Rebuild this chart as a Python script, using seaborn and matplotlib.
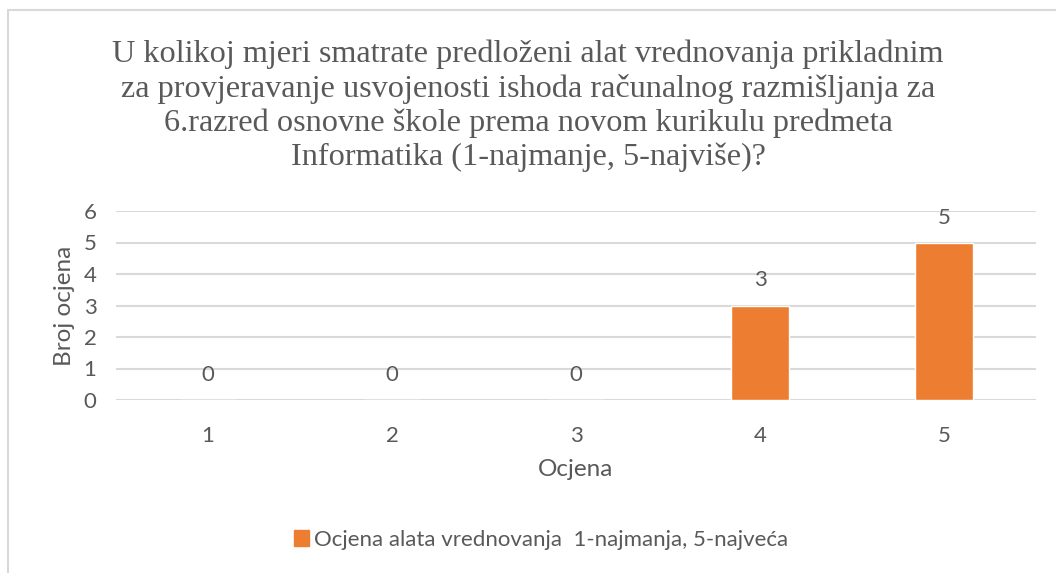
import matplotlib
matplotlib.use("Agg")
import matplotlib.pyplot as plt
import seaborn as sns
import pandas as pd
from matplotlib.patches import Rectangle, Patch

categories = ["1", "2", "3", "4", "5"]
values = [0, 0, 0, 3, 5]
series_name = "Ocjena alata vrednovanja  1-najmanja, 5-najveća"
title = ("U kolikoj mjeri smatrate predloženi alat vrednovanja prikladnim\n"
         "za provjeravanje usvojenosti ishoda računalnog razmišljanja za\n"
         "6.razred osnovne škole prema novom kurikulu predmeta\n"
         "Informatika (1-najmanje, 5-najviše)?")
y_ticks = [0, 1, 2, 3, 4, 5, 6]

sns.set_theme(style="white")
plt.rcParams['font.family'] = ['Lato', 'DejaVu Sans']

TXT = "#595959"
ORANGE = "#ED7D31"
GRID = "#D9D9D9"

df = pd.DataFrame({"Ocjena": categories, "Broj": values})

fig = plt.figure(figsize=(10.56, 5.73), dpi=100)
ax = fig.add_axes([116/1056, 1-400/573, 920/1056, 189/573])

sns.barplot(data=df, x="Ocjena", y="Broj", color=ORANGE, width=0.315,
            saturation=1, ax=ax, zorder=3)

ax.set_ylim(0, 6)
ax.set_yticks(y_ticks)
ax.yaxis.grid(True, color=GRID, linewidth=1.5, zorder=0)
ax.set_axisbelow(True)
for s in ax.spines.values():
    s.set_visible(False)
ax.tick_params(axis='both', length=0, colors=TXT, labelsize=16)
ax.tick_params(axis='x', pad=19)
ax.tick_params(axis='y', pad=14)
ax.set_xlabel("Ocjena", color=TXT, fontsize=17.5, labelpad=9)
ax.set_ylabel("Broj ocjena", color=TXT, fontsize=17.5, labelpad=6)

for i, v in enumerate(values):
    ax.annotate(str(v), xy=(i, v), xytext=(0, 18), textcoords="offset points",
                ha="center", va="center", color=TXT, fontsize=16)

fig.text(0.5, 1-106/573, title, ha="center", va="center",
         fontsize=23.2, color=TXT, family="Liberation Serif", linespacing=1.2)

handles = [Patch(facecolor=ORANGE, edgecolor=ORANGE)]
fig.legend(handles, [series_name], loc="center", bbox_to_anchor=(541/1056, 1-540/573),
           frameon=False, fontsize=16, labelcolor=TXT, handlelength=0.7,
           handleheight=0.7, handletextpad=0.2)

# chart border
fig.add_artist(Rectangle((8/1056, -0.1), 1.2, 1-10/573+0.1, transform=fig.transFigure,
                         fill=False, edgecolor="#D9D9D9", linewidth=1.5))

fig.savefig("out.png", dpi=100)
